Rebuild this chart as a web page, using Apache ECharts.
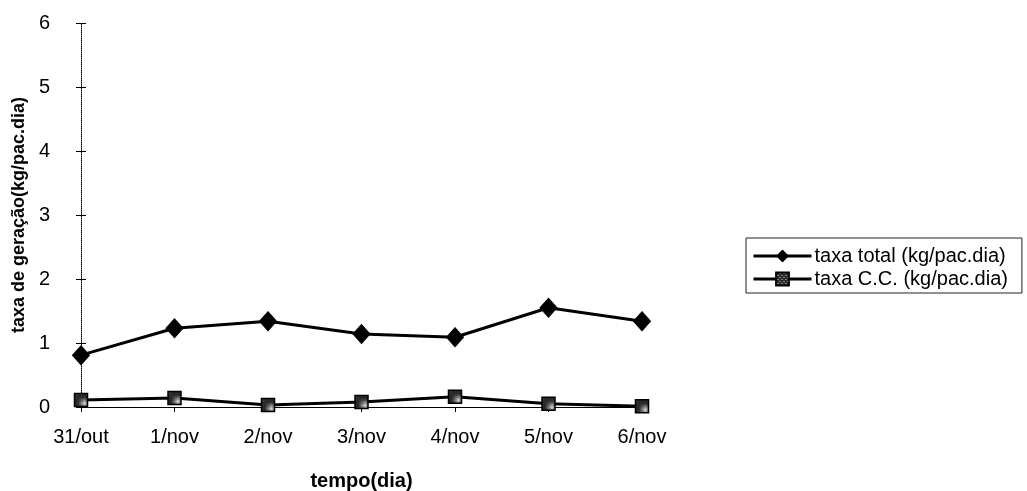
<!DOCTYPE html>
<html>
<head>
<meta charset="utf-8">
<script src="https://cdn.jsdelivr.net/npm/echarts@6/dist/echarts.min.js"></script>
<style>
  html, body { margin: 0; padding: 0; background: #fff; }
  #chart { width: 1027px; height: 491px; }
</style>
</head>
<body>
<div id="chart"></div>
<script>
// Daily waste generation rates
const days = ['31/out', '1/nov', '2/nov', '3/nov', '4/nov', '5/nov', '6/nov'];
const taxaTotal = [0.81, 1.23, 1.34, 1.14, 1.09, 1.55, 1.34];
const taxaCC = [0.11, 0.14, 0.03, 0.08, 0.16, 0.05, 0.01];
const yTicks = [0, 1, 2, 3, 4, 5, 6];

// Speckled fill for the square markers
function speckle() {
  const c = document.createElement('canvas');
  c.width = 4; c.height = 4;
  const g = c.getContext('2d');
  g.fillStyle = '#2a2a2a';
  g.fillRect(0, 0, 4, 4);
  g.fillStyle = '#d8d8d8';
  g.fillRect(0, 0, 1, 1);
  g.fillRect(2, 2, 1, 1);
  return c;
}
const speckleFill = { image: speckle(), repeat: 'repeat' };

const font = 'Liberation Sans, Arial, sans-serif';
const chart = echarts.init(document.getElementById('chart'), null, { renderer: 'canvas' });

const yBase = {
  type: 'value',
  min: yTicks[0],
  max: yTicks[yTicks.length - 1],
  interval: 1,
  splitLine: { show: false }
};

chart.setOption({
  animation: false,
  backgroundColor: '#fff',
  grid: { left: 81, right: 385, top: 23, bottom: 84, containLabel: false, outerBoundsMode: 'none' },
  legend: {
    orient: 'vertical',
    left: 746,
    top: 238,
    padding: [8, 14, 4, 6],
    itemGap: 3,
    itemWidth: 58,
    itemHeight: 16,
    borderColor: '#222',
    borderWidth: 1,
    lineStyle: { width: 3 },
    textStyle: { fontFamily: font, fontSize: 20, color: '#000', padding: [0, 0, 0, -2] },
    data: ['taxa total (kg/pac.dia)', 'taxa C.C. (kg/pac.dia)']
  },
  xAxis: {
    type: 'category',
    data: days,
    boundaryGap: false,
    axisLine: { lineStyle: { color: '#000', width: 1 } },
    axisTick: { show: true, length: 5, lineStyle: { color: '#000' } },
    axisLabel: { color: '#000', fontFamily: font, fontSize: 20, margin: 20 },
    name: 'tempo(dia)',
    nameLocation: 'middle',
    nameGap: 64,
    nameTextStyle: { color: '#000', fontFamily: font, fontSize: 20, fontWeight: 'bold' }
  },
  yAxis: [
    Object.assign({}, yBase, {
      position: 'left',
      axisLine: { show: true, lineStyle: { color: '#000', width: 1, type: 'dotted' } },
      axisTick: { show: true, inside: false, length: 5, lineStyle: { color: '#000' } },
      axisLabel: { color: '#000', fontFamily: font, fontSize: 20, margin: 31,
                   formatter: v => String(v) },
      name: 'taxa de geração(kg/pac.dia)',
      nameLocation: 'middle',
      nameGap: 53,
      nameRotate: 90,
      nameTextStyle: { color: '#000', fontFamily: font, fontSize: 18, fontWeight: 'bold' }
    }),
    Object.assign({}, yBase, {
      position: 'left',
      axisLine: { show: false },
      axisTick: { show: true, inside: true, length: 5, lineStyle: { color: '#000' } },
      axisLabel: { show: false }
    })
  ],
  series: [
    {
      name: 'taxa total (kg/pac.dia)',
      type: 'line',
      data: taxaTotal,
      symbol: 'diamond',
      symbolSize: [17, 19],
      lineStyle: { color: '#000', width: 3 },
      itemStyle: { color: '#000', borderColor: '#000' }
    },
    {
      name: 'taxa C.C. (kg/pac.dia)',
      type: 'line',
      data: taxaCC,
      symbol: 'rect',
      symbolSize: 13,
      lineStyle: { color: '#000', width: 3 },
      itemStyle: { color: speckleFill, borderColor: '#000', borderWidth: 1.5 }
    }
  ]
});
</script>
</body>
</html>
